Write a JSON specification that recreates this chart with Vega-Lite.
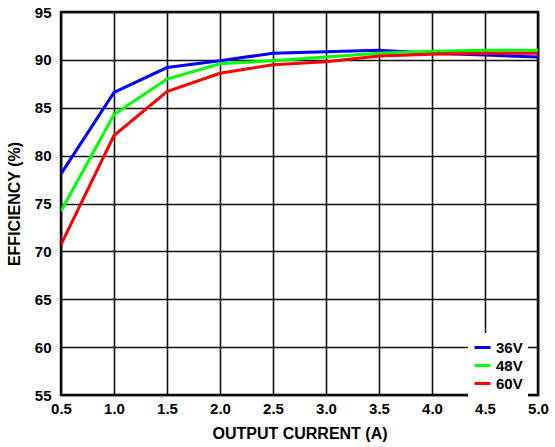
{
  "$schema": "https://vega.github.io/schema/vega-lite/v6.json",
  "autosize": {"type": "none"},
  "padding": {"left": 61, "top": 12, "right": 17, "bottom": 52},
  "width": 477,
  "height": 383,
  "background": "white",
  "config": {
    "view": {"stroke": "black", "strokeWidth": 2.5},
    "font": "Liberation Sans",
    "axis": {
      "labelFont": "Liberation Sans",
      "labelFontWeight": "bold",
      "labelFontSize": 15,
      "labelColor": "black",
      "titleFont": "Liberation Sans",
      "titleFontWeight": "bold",
      "titleFontSize": 16,
      "titleColor": "black",
      "grid": true,
      "gridColor": "#111",
      "gridWidth": 1.6,
      "gridOpacity": 1,
      "domain": false,
      "ticks": false
    }
  },
  "data": {
    "values": [
      {"current": 0.5, "eff": 78.1, "vin": "36V"},
      {"current": 1.0, "eff": 86.6, "vin": "36V"},
      {"current": 1.5, "eff": 89.2, "vin": "36V"},
      {"current": 2.0, "eff": 89.9, "vin": "36V"},
      {"current": 2.5, "eff": 90.7, "vin": "36V"},
      {"current": 3.0, "eff": 90.85, "vin": "36V"},
      {"current": 3.5, "eff": 91.0, "vin": "36V"},
      {"current": 4.0, "eff": 90.7, "vin": "36V"},
      {"current": 4.5, "eff": 90.5, "vin": "36V"},
      {"current": 5.0, "eff": 90.3, "vin": "36V"},
      {"current": 0.5, "eff": 74.2, "vin": "48V"},
      {"current": 1.0, "eff": 84.3, "vin": "48V"},
      {"current": 1.5, "eff": 88.0, "vin": "48V"},
      {"current": 2.0, "eff": 89.6, "vin": "48V"},
      {"current": 2.5, "eff": 89.9, "vin": "48V"},
      {"current": 3.0, "eff": 90.3, "vin": "48V"},
      {"current": 3.5, "eff": 90.7, "vin": "48V"},
      {"current": 4.0, "eff": 90.9, "vin": "48V"},
      {"current": 4.5, "eff": 91.0, "vin": "48V"},
      {"current": 5.0, "eff": 91.0, "vin": "48V"},
      {"current": 0.5, "eff": 70.7, "vin": "60V"},
      {"current": 1.0, "eff": 82.1, "vin": "60V"},
      {"current": 1.5, "eff": 86.7, "vin": "60V"},
      {"current": 2.0, "eff": 88.6, "vin": "60V"},
      {"current": 2.5, "eff": 89.5, "vin": "60V"},
      {"current": 3.0, "eff": 89.8, "vin": "60V"},
      {"current": 3.5, "eff": 90.4, "vin": "60V"},
      {"current": 4.0, "eff": 90.6, "vin": "60V"},
      {"current": 4.5, "eff": 90.7, "vin": "60V"},
      {"current": 5.0, "eff": 90.7, "vin": "60V"}
    ]
  },
  "mark": {"type": "line", "strokeWidth": 3, "clip": true},
  "encoding": {
    "x": {
      "field": "current",
      "type": "quantitative",
      "title": "OUTPUT CURRENT (A)",
      "scale": {"domain": [0.5, 5], "nice": false, "zero": false},
      "axis": {"values": [0.5, 1, 1.5, 2, 2.5, 3, 3.5, 4, 4.5, 5], "format": ".1f", "labelPadding": 6, "titlePadding": 9, "labelFlush": false}
    },
    "y": {
      "field": "eff",
      "type": "quantitative",
      "title": "EFFICIENCY (%)",
      "scale": {"domain": [55, 95], "nice": false, "zero": false},
      "axis": {"values": [55, 60, 65, 70, 75, 80, 85, 90, 95], "labelPadding": 10, "titlePadding": 12, "labelFlush": false}
    },
    "color": {
      "field": "vin",
      "type": "nominal",
      "scale": {"domain": ["36V", "48V", "60V"], "range": ["#0000ff", "#00ff00", "#ff0000"]},
      "legend": {
        "title": null,
        "orient": "none",
        "legendX": 407,
        "legendY": 321,
        "fillColor": "white",
        "padding": 5,
        "symbolType": "stroke",
        "symbolStrokeWidth": 3,
        "symbolSize": 256,
        "labelFont": "Liberation Sans",
        "labelFontWeight": "bold",
        "labelFontSize": 15,
        "labelColor": "black",
        "rowPadding": -3
      }
    }
  }
}
